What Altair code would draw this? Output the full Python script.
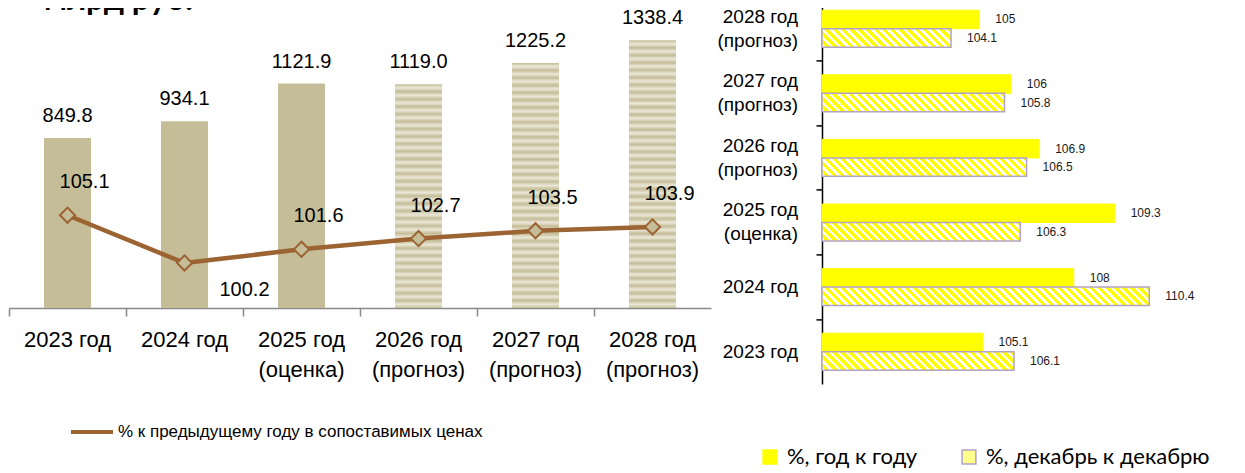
import altair as alt
import pandas as pd

# ---------------- data ----------------
years = ["2023 год", "2024 год", "2025 год", "2026 год", "2027 год", "2028 год"]
notes = ["", "", "(оценка)", "(прогноз)", "(прогноз)", "(прогноз)"]
revenue = [849.8, 934.1, 1121.9, 1119.0, 1225.2, 1338.4]
growth = [105.1, 100.2, 101.6, 102.7, 103.5, 103.9]
line_name = "% к предыдущему году в сопоставимых ценах"
bar_names = ["%, год к году", "%, декабрь к декабрю"]
yoy = [105.1, 108.0, 109.3, 106.9, 106.0, 105.0]
dec = [106.1, 110.4, 106.3, 106.5, 105.8, 104.1]
unit_title = "млрд руб."

# ---------------- layout / style ----------------
TOP_CUT = 12.6                      # part of the figure above the visible page top
L_W, L_H = 702, 311.6
REV_DOM = [0, 1558]
G_DOM = [95.585, 127.54]
R_W, R_H = 406, 387.6
R_DOM = [100, 112.9]
R_PAD = 0.75
BAR_H = R_H / 6 / (2 + 2 * R_PAD)

FONT = "Liberation Sans"
BEIGE, BEIGE_LIGHT = "#c4bd97", "#ebe7d8"
BROWN = "#9c6333"
YELLOW, LAVENDER, PALE = "#ffff00", "#b3a2c7", "#ffff8c"


def wave_gradient(height_px):
    n = max(1, round(height_px / 7.5))
    stops = []
    for k in range(n):
        stops.append(alt.GradientStop(color=BEIGE, offset=k / n))
        stops.append(alt.GradientStop(color=BEIGE_LIGHT, offset=(k + 0.5) / n))
    stops.append(alt.GradientStop(color=BEIGE, offset=1))
    return alt.LinearGradient(gradient="linear", stops=stops, x1=0, y1=0, x2=1e-6, y2=1)


def hatch_gradient(w, h, period=8.0, white=0.45):
    n = max(1, round((w + h) / period))
    stops = []
    for k in range(n):
        a, b, c = k / n, (k + white) / n, min(1.0, (k + 1) / n)
        stops += [alt.GradientStop(color="#ffffff", offset=a),
                  alt.GradientStop(color="#ffffff", offset=b),
                  alt.GradientStop(color=YELLOW, offset=b),
                  alt.GradientStop(color=YELLOW, offset=c)]
    lam = (w + h) * w / (w * w + h * h)
    return alt.LinearGradient(gradient="linear", stops=stops,
                              x1=1e-6, y1=1, x2=lam, y2=1 - lam * h / w)


# ---------------- left chart ----------------
df_left = pd.DataFrame({"year": years, "note": notes, "revenue": revenue, "growth": growth,
                        "name": line_name})
df_title = pd.DataFrame({"t": [unit_title]})

x_band = alt.X("year:N", sort=years,
               scale=alt.Scale(domain=years, paddingInner=0, paddingOuter=0),
               axis=alt.Axis(orient="bottom", title=None, domainColor="#898989",
                             domainWidth=1.5, tickColor="#898989", tickWidth=1.5, tickSize=8,
                             bandPosition=0, labelAngle=0, labelFont=FONT, labelFontSize=22,
                             labelColor="black", labelPadding=14, grid=False))
y_rev = alt.Y("revenue:Q", scale=alt.Scale(domain=REV_DOM, nice=False), axis=None)
y_g = alt.Y("growth:Q", scale=alt.Scale(domain=G_DOM, nice=False, zero=False), axis=None)

base = alt.Chart(df_left)
rev_layers = [base.transform_filter(alt.datum.note != "(прогноз)")
              .mark_bar(size=47, fill=BEIGE).encode(x=x_band, y=y_rev)]
for yr, nt, rv in zip(years, notes, revenue):
    if nt == "(прогноз)":
        rev_layers.append(
            base.transform_filter(alt.datum.year == yr)
            .mark_bar(size=47, fill=wave_gradient(rv * L_H / REV_DOM[1]))
            .encode(x=x_band, y=y_rev))
rev_layers.append(
    base.mark_text(dy=-22, font=FONT, fontSize=20, color="black", baseline="middle")
    .encode(x=x_band, y=y_rev, text=alt.Text("revenue:Q", format=".1f")))
rev_layers.append(
    base.mark_text(baseline="top", font=FONT, fontSize=22, color="black")
    .encode(x=x_band, y=alt.value(L_H + 52), text="note:N"))
rev_layers.append(
    alt.Chart(df_title).mark_text(clip=True, align="left", baseline="alphabetic",
                                  font="Lato", fontWeight="bold", fontSize=32, color="black")
    .encode(x=alt.value(35), y=alt.value(TOP_CUT + 1), text="t:N"))
rev_layer = alt.layer(*rev_layers)

line = base.mark_line(strokeWidth=4.5).encode(
    x=x_band, y=y_g,
    color=alt.Color("name:N", scale=alt.Scale(domain=[line_name], range=[BROWN]),
                    legend=alt.Legend(orient="none", legendX=60, legendY=412.6, title=None,
                                      symbolType="stroke", symbolSize=1764,
                                      symbolStrokeWidth=4, labelFont=FONT, labelFontSize=17,
                                      labelColor="black", labelOffset=3, labelLimit=0,
                                      padding=0)))
points = base.mark_point(shape="diamond", filled=True, fill=BEIGE, stroke=BROWN,
                         strokeWidth=2, size=230, opacity=1).encode(x=x_band, y=y_g)
lab_up = (base.transform_filter(alt.datum.growth > min(growth))
          .mark_text(dx=17, dy=-33, font=FONT, fontSize=20, color="black", baseline="middle")
          .encode(x=x_band, y=y_g, text=alt.Text("growth:Q", format=".1f")))
lab_dn = (base.transform_filter(alt.datum.growth <= min(growth))
          .mark_text(dx=60, dy=27, font=FONT, fontSize=20, color="black", baseline="middle")
          .encode(x=x_band, y=y_g, text=alt.Text("growth:Q", format=".1f")))
g_layer = alt.layer(line, points, lab_up, lab_dn)

left = (alt.layer(rev_layer, g_layer)
        .resolve_scale(y="independent")
        .properties(width=L_W, height=L_H))

# ---------------- right chart ----------------
df_right = pd.DataFrame({
    "year": years * 2,
    "note": notes * 2,
    "series": [bar_names[0]] * len(years) + [bar_names[1]] * len(years),
    "value": yoy + dec,
})
y_band = alt.Y("year:N", sort=years[::-1],
               scale=alt.Scale(domain=years[::-1], paddingInner=0, paddingOuter=0),
               axis=alt.Axis(orient="left", title=None, domainColor="black",
                             domainWidth=1.5, tickColor="black", tickWidth=1.5, tickSize=6,
                             bandPosition=0, labels=False, grid=False))
x_lin = alt.X("value:Q", scale=alt.Scale(domain=R_DOM, nice=False, zero=False), axis=None)
x_base = alt.datum(R_DOM[0])
y_off = alt.YOffset("series:N", sort=bar_names,
                    scale=alt.Scale(domain=bar_names, paddingInner=0, paddingOuter=R_PAD))
leg = alt.Legend(orient="none", direction="horizontal", legendX=-63, legendY=449.6,
                 title=None, symbolType="square", symbolSize=190, symbolStrokeWidth=1.5,
                 labelFont="Lato", labelFontSize=22, labelColor="black", labelOffset=6,
                 columnPadding=40, labelLimit=0, padding=0)
rbase = alt.Chart(df_right)
r_layers = [rbase.transform_filter(alt.datum.series == bar_names[0])
            .mark_bar(strokeWidth=1)
            .encode(x=x_lin, x2=x_base, y=y_band, yOffset=y_off,
                    fill=alt.Fill("series:N", scale=alt.Scale(domain=bar_names,
                                                              range=[YELLOW, PALE]),
                                  legend=leg),
                    stroke=alt.Stroke("series:N", scale=alt.Scale(domain=bar_names,
                                                                  range=[YELLOW, LAVENDER]),
                                      legend=leg))]
for yr, v in zip(years, dec):
    wpx = (v - R_DOM[0]) * R_W / (R_DOM[1] - R_DOM[0])
    r_layers.append(
        rbase.transform_filter((alt.datum.series == bar_names[1]) & (alt.datum.year == yr))
        .mark_bar(fill=hatch_gradient(wpx, BAR_H), stroke=LAVENDER, strokeWidth=1.5)
        .encode(x=x_lin, x2=x_base, y=y_band, yOffset=y_off))
r_layers.append(
    rbase.mark_text(align="left", dx=16, baseline="middle", font=FONT, fontSize=12,
                    color="#1a1a1a")
    .encode(x=x_lin, y=y_band, yOffset=y_off, text=alt.Text("value:Q", format="")))
cat_base = rbase.transform_filter(alt.datum.series == bar_names[0])
r_layers.append(
    cat_base.transform_filter(alt.datum.note == "")
    .mark_text(align="right", baseline="middle", font=FONT, fontSize=19, color="black")
    .encode(x=alt.value(-24), y=y_band, text="year:N"))
r_layers.append(
    cat_base.transform_filter(alt.datum.note != "")
    .mark_text(align="right", baseline="middle", dy=-12, font=FONT, fontSize=19,
               color="black")
    .encode(x=alt.value(-24), y=y_band, text="year:N"))
r_layers.append(
    cat_base.transform_filter(alt.datum.note != "")
    .mark_text(align="right", baseline="middle", dy=12, font=FONT, fontSize=19,
               color="black")
    .encode(x=alt.value(-24), y=y_band, text="note:N"))
right = alt.layer(*r_layers).properties(width=R_W, height=R_H)

chart = (alt.hconcat(left, right, spacing=813 - L_W, bounds="flush")
         .resolve_scale(color="independent", fill="independent", stroke="independent")
         .resolve_legend(color="independent", fill="independent", stroke="independent")
         .properties(padding={"top": -TOP_CUT, "left": 0, "right": 0, "bottom": 0})
         .configure_view(strokeWidth=0))

chart.save("out.html", embed_options={"renderer": "svg", "actions": False})
